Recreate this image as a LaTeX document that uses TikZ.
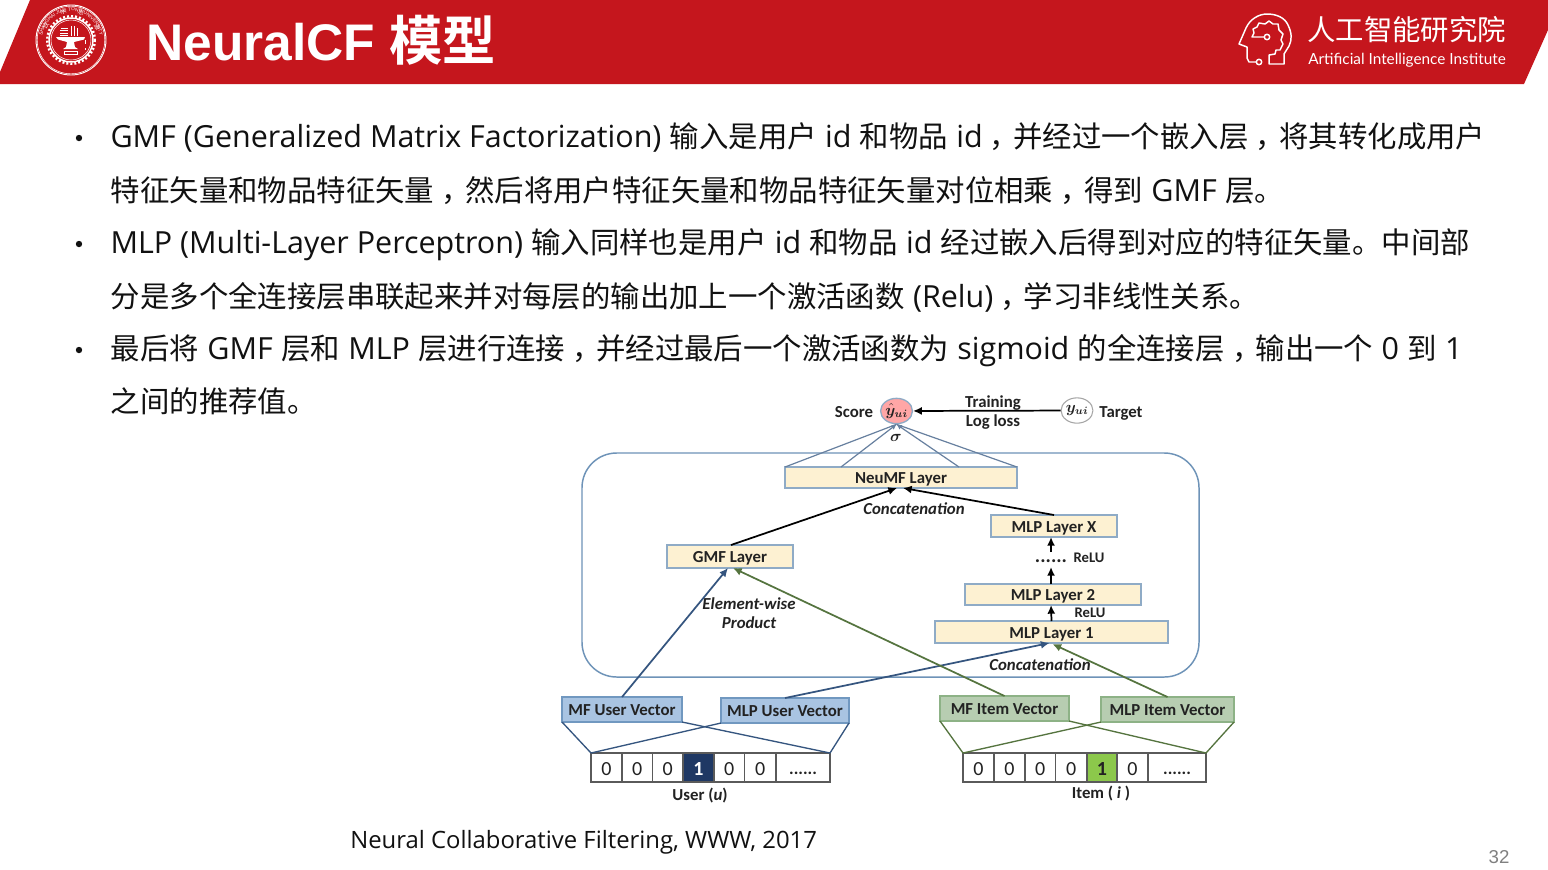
\documentclass[tikz,border=0pt]{standalone}
\usepackage{fontspec}
\usepackage{amsmath,bm}
\usetikzlibrary{calc,arrows.meta,decorations.text,shapes.geometric}
\setmainfont{Open Sans}
\newfontfamily\cjk{Noto Sans CJK SC}
\newfontfamily\cjkb{Noto Sans CJK SC}[BoldFont={* Bold}]
\newfontfamily\lib{Liberation Sans}
\newfontfamily\car{Carlito}
\newfontfamily\lat{Lato}
\newcommand{\cn}[1]{\hspace{0.3pt}{\cjk\fontsize{22.05pt}{23pt}\selectfont #1}\hspace{0.3pt}}
\newcommand{\cmm}{\hspace{5pt}\cn{，}\hspace{-5pt}}
\definecolor{hdr}{HTML}{C5161D}
\definecolor{bodyt}{HTML}{111111}
\definecolor{frame}{HTML}{6E93B8}
\definecolor{layerf}{HTML}{FDF1D2}
\definecolor{layerd}{HTML}{8FABC6}
\definecolor{navy}{HTML}{35557F}
\definecolor{leaf}{HTML}{55743F}
\definecolor{ubf}{HTML}{A9C4E2}
\definecolor{ubd}{HTML}{7198C0}
\definecolor{ibf}{HTML}{B7CDB1}
\definecolor{ibd}{HTML}{8DB286}
\definecolor{cellb}{HTML}{5A5A5A}
\definecolor{darkc}{HTML}{1F3864}
\definecolor{greenc}{HTML}{8CC84B}
\definecolor{txt}{HTML}{222222}
\tikzset{
 textline/.style={anchor=base west,inner sep=0pt,outer sep=0pt,font=\fontsize{22.85pt}{23pt}\selectfont,text=bodyt},
 bulletmark/.style={circle,fill=bodyt,inner sep=0pt,minimum size=4.8pt},
 lbl/.style={inner sep=0pt,outer sep=0pt,font=\car\bfseries\fontsize{12.6pt}{13pt}\selectfont,text=txt},
 ilbl/.style={lbl,font=\car\bfseries\itshape\fontsize{12.6pt}{13pt}\selectfont},
 rect/.style={draw,line width=0.9pt,inner sep=0pt,outer sep=0pt,text depth=0pt,text height=9.7pt,font=\car\bfseries\fontsize{12.6pt}{13pt}\selectfont,text=txt},
 layerbox/.style={rect,fill=layerf,draw=layerd},
 ubox/.style={rect,fill=ubf,draw=ubd},
 ibox/.style={rect,fill=ibf,draw=ibd},
 cellbox/.style={draw=cellb,line width=0.8pt,fill=white,inner sep=0pt,outer sep=0pt,text depth=0pt,text height=12.5pt,font=\car\fontsize{15pt}{15pt}\selectfont,text=txt},
 cellone/.style={cellbox,font=\car\bfseries\fontsize{15pt}{15pt}\selectfont},
 celldots/.style={cellbox,font=\car\bfseries\fontsize{13pt}{13pt}\selectfont},
 blk/.style={draw=black,line width=1.3pt,-{Latex[length=6.5pt,width=6pt]}},
 nav/.style={draw=navy,line width=1.3pt,-{Latex[length=6.5pt,width=6pt]}},
 grn/.style={draw=leaf,line width=1.3pt,-{Latex[length=6.5pt,width=6pt]}},
 navl/.style={draw=navy,line width=1pt},
 grnl/.style={draw=leaf,line width=1pt},
 sig/.style={draw=navy!75,line width=0.9pt},
 sigt/.style={sig,-{Latex[length=4pt,width=4pt]}},
 wl/.style={draw=white,line width=1.1pt,line cap=round,line join=round},
}
\newcommand{\bx}[7]{\node[#2,minimum width={(#5-#3)*0.75pt},minimum height={(#6-#4)*0.75pt}] (#1) at ({(#3+#5)/2},{(#4+#6)/2}) {#7};}
\begin{document}
\begin{tikzpicture}[x=0.75pt,y=-0.75pt]
\useasboundingbox (0,0) rectangle (1548,869);
\fill[white] (0,0) rectangle (1548,869);
% header
\fill[hdr] (30,0) -- (1548,0) -- (1548,30) -- (1524,84) -- (0,84) -- (0,72) -- cycle;
% seal
\draw[white,line width=0.7pt] (71,40) circle (35);
\draw[white,line width=0.4pt] (71,40) circle (33.8);
\draw[white,line width=1.1pt] (71,40) circle (22);
\draw[white,line width=1.8pt,dash pattern=on 1.5pt off 1.5pt] (71,40) circle (23.8);
\draw[white,line width=0.4pt] (71,40) circle (20);
\path[decorate,decoration={text along path,text align=center,text={|\lib\fontsize{3.6pt}{4pt}\selectfont\color{white}|SHANGHAI JIAO TONG UNIVERSITY}}]
  (42,40) arc[start angle=180,end angle=360,radius=29];
\foreach \a/\c in {150/饮,105/水,70/思,25/源}
  \node[inner sep=0pt,text=white,font=\cjk\fontsize{4.5pt}{5pt}\selectfont,rotate=\a-90] at ({71+29*cos(\a)},{40-29*sin(\a)}) {\c};
\fill[white] (56,37) -- (85,37) -- (84,39.5) -- (74,42) -- (75,47) -- (78,49) -- (63,49) -- (66,47) -- (67,42) -- (58,39.5) -- cycle;
\draw[white,line width=0.6pt] (61,28) -- (68,28) (60,30.5) -- (68,30.5) (60,33) -- (68,33) (60,35.5) -- (68,35.5);
\draw[white,line width=0.7pt] (71,35.5) -- (71,26) (74,35.5) -- (74,26) (77,35.5) -- (77,28);
\draw[white,line width=0.7pt] (64,51) rectangle (77,54);
\draw[white,line width=0.7pt,dashed] (85,40) -- (85,50);
% title
\node[inner sep=0pt,anchor=base west,text=white,font=\lib\bfseries\fontsize{38.6pt}{40pt}\selectfont] (title) at (146,60) {NeuralCF {\cjkb\fontsize{40pt}{40pt}\selectfont\bfseries 模型}};
% brain icon
\draw[wl] (1256,62) -- (1249,62) -- (1247,58) -- (1247,47) -- (1239,44) -- (1246,28) .. controls (1250,19) and (1259,14) .. (1267,14) .. controls (1277,14) and (1285,18) .. (1288,25) .. controls (1292,33) and (1292,40) .. (1289,46) -- (1284,54) -- (1284,64) -- (1269,64) -- (1269,55) -- (1275,54) -- (1276,50) -- (1280,50) -- (1283,44) -- (1281,40) -- (1283,34) -- (1279,30) -- (1278,24) -- (1273,24) -- (1269,21) -- (1265,24) -- (1259,23) -- (1257,27) -- (1253,29) -- (1254,33) -- (1252,37) -- (1264,37);
\draw[wl] (1267,37) circle (2.7);
\draw[wl] (1259,62) circle (2.7);
% institute
\node[inner sep=0pt,anchor=base west,text=white,font=\cjk\fontsize{21.3pt}{22pt}\selectfont] (inst) at (1307,40) {人工智能研究院};
\node[inner sep=0pt,anchor=base west,text=white,font=\lat\fontsize{11.5pt}{12pt}\selectfont] (instE) at (1308,64) {Artificial Intelligence Institute};
% body
\node[bulletmark] (b1) at (79,138) {};
\node[bulletmark] (b2) at (79,244) {};
\node[bulletmark] (b3) at (79,350) {};
\node[textline] (l1) at (110.5,147.5) {GMF (Generalized Matrix Factorization) \cn{输入是用户} id \cn{和物品} id\cmm\cn{并经过一个嵌入层}\cmm\cn{将其转化成用户}};
\node[textline] (l2) at (110.5,201.5) {\cn{特征矢量和物品特征矢量}\cmm\cn{然后将用户特征矢量和物品特征矢量对位相乘}\cmm\cn{得到} GMF \cn{层。}};
\node[textline] (l3) at (110.5,253.5) {MLP (Multi-Layer Perceptron) \cn{输入同样也是用户} id \cn{和物品} id \cn{经过嵌入后得到对应的特征矢量。中间部}};
\node[textline] (l4) at (110.5,307.5) {\cn{分是多个全连接层串联起来并对每层的输出加上一个激活函数} (Relu)\cmm\cn{学习非线性关系。}};
\node[textline] (l5) at (110.5,359.5) {\cn{最后将} GMF \cn{层和} MLP \cn{层进行连接}\cmm\cn{并经过最后一个激活函数为} sigmoid \cn{的全连接层}\cmm\cn{输出一个} 0 \cn{到} 1};
\node[textline] (l6) at (110.5,412.5) {\cn{之间的推荐值。}};
\node[inner sep=0pt,anchor=base west,text=bodyt,font=\fontsize{17.9pt}{19pt}\selectfont] (ref) at (350,848) {Neural Collaborative Filtering, WWW, 2017};
\node[inner sep=0pt,text=gray,font=\lib\fontsize{14pt}{15pt}\selectfont] (pg) at (1499,857) {32};
% frame
\draw[frame,line width=1.1pt,rounded corners=26pt] (582,453) rectangle (1199,677);
% top
\node[lbl] (score) at (854,412) {Score};
\node[draw=layerd,line width=1pt,fill=red!35!white,ellipse,minimum width=23.5pt,minimum height=19pt,inner sep=0pt,font=\fontsize{12pt}{12pt}\selectfont,text=txt] (yhat) at (896.5,411) {$\bm{\hat{y}_{ui}}$};
\node[draw=gray!70,line width=0.8pt,fill=white,ellipse,minimum width=23.5pt,minimum height=19pt,inner sep=0pt,font=\fontsize{12pt}{12pt}\selectfont,text=txt] (ytar) at (1077,410.5) {$\bm{y_{ui}}$};
\node[lbl] (target) at (1121,413) {Target};
\node[lbl] (train) at (993,403) {Training};
\node[lbl] (logl) at (993,422) {Log loss};
\draw[blk] (ytar) -- (yhat);
\node[ilbl] (sigma) at (896,438) {$\bm{\sigma}$};
% layers
\bx{neu}{layerbox}{785}{467}{1017}{488}{NeuMF Layer}
\bx{mlpx}{layerbox}{991}{515}{1117}{537}{MLP Layer X}
\bx{gmf}{layerbox}{667}{545}{793}{568}{GMF Layer}
\bx{mlp2}{layerbox}{965}{584}{1141}{605}{MLP Layer 2}
\bx{mlp1}{layerbox}{935}{621}{1168}{643}{MLP Layer 1}
\bx{mfu}{ubox}{562}{697}{682}{722}{MF User Vector}
\bx{mlpu}{ubox}{721}{698}{849}{723}{MLP User Vector}
\bx{mfi}{ibox}{940}{696}{1069}{721}{MF Item Vector}
\bx{mlpi}{ibox}{1101}{697}{1234}{722}{MLP Item Vector}
% sigmoid fan
\draw[sig] (neu.north west) -- (yhat.south);
\draw[sigt] ($(neu.north west)+(56,0)$) -- (yhat.south);
\draw[sigt] ($(neu.north east)+(-58,0)$) -- (yhat.south);
\draw[sig] (neu.north east) -- (yhat.south);
\node[ilbl] (conc1) at (914,509) {Concatenation};
\node[ilbl] (elem) at (749,604) {Element-wise};
\node[ilbl] (prod) at (749,623) {Product};
\node[ilbl] (conc2) at (1040,665) {Concatenation};
\node[lbl,anchor=base,font=\car\bfseries\fontsize{15pt}{15pt}\selectfont] (dots) at (1051,562) {......};
\coordinate (dotup) at (1051,552);
\coordinate (dotlow) at (1051,567);
\node[lbl,font=\car\bfseries\fontsize{11pt}{11pt}\selectfont] (relu1) at (1089,558) {ReLU};
\node[lbl,font=\car\bfseries\fontsize{11pt}{11pt}\selectfont] (relu2) at (1090,613) {ReLU};
% upper arrows
\draw[blk] ($(gmf.north)+(1,0)$) -- ($(neu.south)+(-4,0)$);
\draw[blk] (mlpx.north) -- ($(neu.south)+(2,0)$);
\draw[blk] ($(mlp2.north)+(-2,0)$) -- (dotlow);
\draw[blk] (dotup) -- ($(mlpx.south)+(-3,0)$);
\draw[blk] (mlp1.north) -- ($(mlp2.south)+(-2,0)$);
% vector arrows
\draw[nav] (mfu.north) -- ($(gmf.south)+(-2,0)$);
\draw[nav] (mlpu.north) -- ($(mlp1.south)+(-2,0)$);
\draw[grn] (mfi.north) -- ($(gmf.south)+(3,0)$);
\draw[grn] (mlpi.north) -- ($(mlp1.south)+(1,1)$);
% cells user
\bx{u1}{cellbox}{591}{753}{622}{782}{0}
\bx{u2}{cellbox}{622}{753}{652.5}{782}{0}
\bx{u3}{cellbox}{652.5}{753}{683}{782}{0}
\bx{u4}{cellone,fill=darkc,text=white}{683}{753}{714}{782}{1}
\bx{u5}{cellbox}{714}{753}{744.5}{782}{0}
\bx{u6}{cellbox}{744.5}{753}{776}{782}{0}
\bx{u7}{celldots}{776}{753}{830}{782}{\raisebox{1pt}{......}}
\node[lbl] (ulab) at (700,796) {User (\textit{u})};
% cells item
\bx{i1}{cellbox}{963}{753}{994}{782}{0}
\bx{i2}{cellbox}{994}{753}{1025}{782}{0}
\bx{i3}{cellbox}{1025}{753}{1055.5}{782}{0}
\bx{i4}{cellbox}{1055.5}{753}{1087}{782}{0}
\bx{i5}{cellone,fill=greenc}{1087}{753}{1117}{782}{1}
\bx{i6}{cellbox}{1117}{753}{1148}{782}{0}
\bx{i7}{celldots}{1148}{753}{1206}{782}{\raisebox{1pt}{......}}
\node[lbl] (ilab) at (1101,794) {Item ( \textit{i} )};
% projection lines
\draw[navl] (mfu.south west) -- (u1.north west);
\draw[navl] (mfu.south east) -- (u7.north east);
\draw[navl] (mlpu.south west) -- (u1.north west);
\draw[navl] (mlpu.south east) -- (u7.north east);
\draw[grnl] (mfi.south west) -- (i1.north west);
\draw[grnl] (mfi.south east) -- (i7.north east);
\draw[grnl] (mlpi.south west) -- (i1.north west);
\draw[grnl] (mlpi.south east) -- (i7.north east);
\end{tikzpicture}
\end{document}
